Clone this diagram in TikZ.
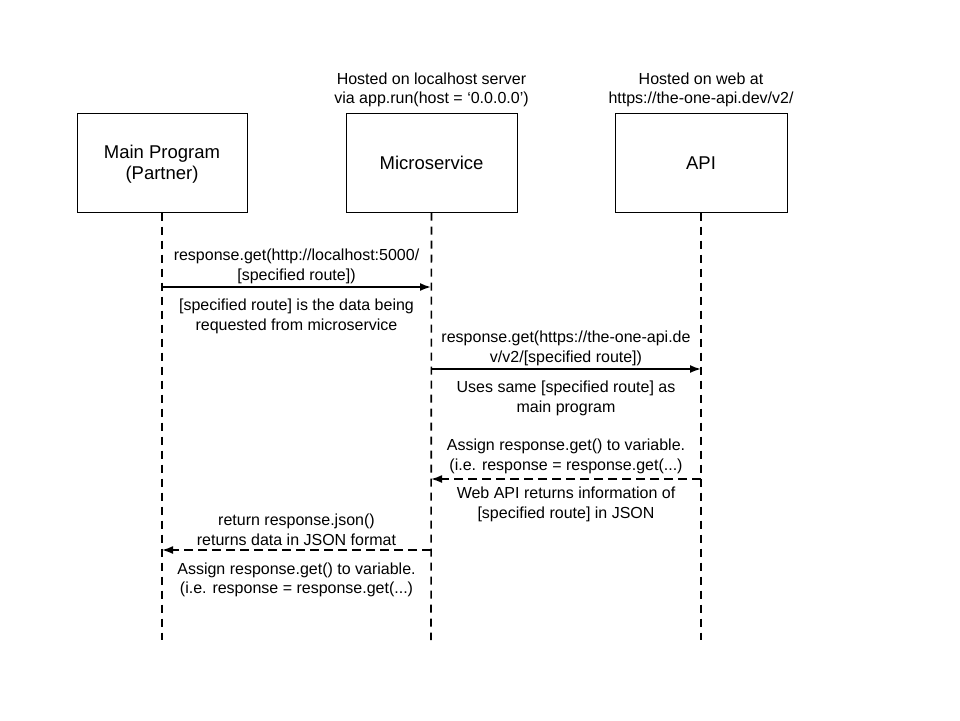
\documentclass[tikz,border=0pt]{standalone}
\usepackage{fontspec}
\setmainfont{Liberation Sans}
\usetikzlibrary{arrows.meta}
\tikzset{
  actor/.style={draw=black, line width=1pt, minimum width=170pt, minimum height=99pt, inner sep=0pt, font=\fontsize{18.5}{21}\selectfont, align=center},
  lbl/.style={inner sep=0pt, font=\fontsize{16}{19.5}\selectfont, align=center},
  lifeline/.style={line width=1.6pt, dash pattern=on 8pt off 6pt},
  callarrow/.style={line width=1.8pt, -{Latex[length=11pt,width=8pt]}},
  retarrow/.style={line width=1.8pt, dash pattern=on 9pt off 5pt, -{Latex[length=11pt,width=8pt]}},
}
\begin{document}
\begin{tikzpicture}[x=1pt,y=-1pt]
\useasboundingbox (0,0) rectangle (960,720);
\fill[white] (0,0) rectangle (960,720);

% actors
\node[actor] (main) at (162,162.5) {};
\node[lbl, font=\fontsize{18.5}{21}\selectfont] (mainText) at (main.center) [yshift=-2pt] {Main Program\\(Partner)};
\node[actor, minimum width=171pt] (micro) at (431.5,162.5) {};
\node[lbl, font=\fontsize{18.5}{21}\selectfont, anchor=base] (microText) at ([yshift=-7pt]micro.center) {Microservice};
\node[actor, minimum width=172pt] (api) at (701,162.5) {};
\node[lbl, font=\fontsize{18.5}{21}\selectfont, anchor=base] (apiText) at ([yshift=-7pt]api.center) {API};

% header notes
\node[lbl] (microNote) at (431.5,90) {Hosted on localhost server\\via app.run(host = ‘0.0.0.0’)};
\node[lbl] (apiNote) at (701,90) {Hosted on web at\\https://the-one-api.dev/v2/};

% lifeline ends
\coordinate (mainEnd) at (162,640);
\coordinate (microEnd) at (431,640);
\coordinate (apiEnd) at (701,640);
\draw[lifeline] (main.south) -- (mainEnd);
\draw[lifeline] (micro.south) -- (microEnd);
\draw[lifeline] (api.south) -- (apiEnd);

% message anchor points
\coordinate (m1) at (162,287);
\coordinate (s1) at (431,287);
\coordinate (s2) at (431,369);
\coordinate (a2) at (701,369);
\coordinate (a3) at (701,479);
\coordinate (s3) at (431,479);
\coordinate (s4) at (431,550);
\coordinate (m4) at (162,550);

\draw[callarrow] (m1) -- (s1);
\draw[callarrow] (s2) -- (a2);
\draw[retarrow] (a3) -- (s3);
\draw[retarrow] (s4) -- (m4);

% labels
\node[lbl] (t1a) at (296.5,266.5) {response.get(http://localhost:5000/\\{}[specified route])};
\node[lbl] (t1b) at (296.5,316.5) {{}[specified route] is the data being\\requested from microservice};
\node[lbl] (t2a) at (566,348.5) {response.get(https://the-one-api.de\\v/v2/[specified route])};
\node[lbl] (t2b) at (566,398.5) {Uses same [specified route] as\\main program};
\node[lbl] (t3a) at (566,456.5) {Assign response.get() to variable.\\(i.e. response = response.get(...)};
\node[lbl] (t3b) at (566,504.5) {Web API returns information of\\{}[specified route] in JSON};
\node[lbl] (t4a) at (296.5,530) {return response.json()\\returns data in JSON format};
\node[lbl] (t4b) at (296.5,580) {Assign response.get() to variable.\\(i.e. response = response.get(...)};
\end{tikzpicture}
\end{document}
